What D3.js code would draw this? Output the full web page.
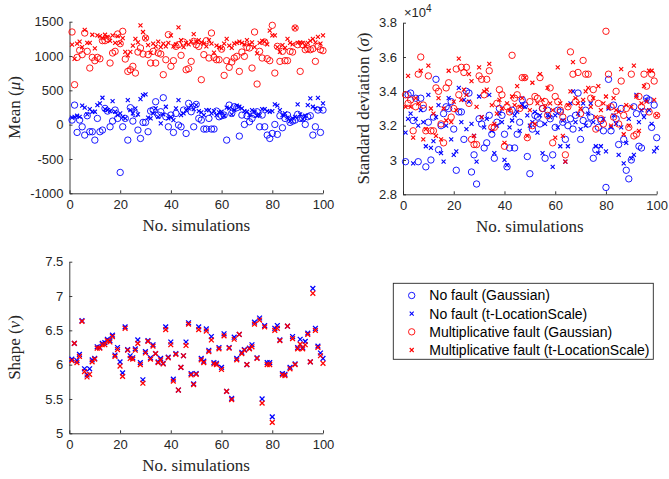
<!DOCTYPE html>
<html><head><meta charset="utf-8">
<script src="https://cdn.jsdelivr.net/npm/d3@7"></script>
<style>body{margin:0;background:#fff}svg{display:block}</style>
</head><body>
<script>
// Simulation index (x axis)
const simulations = d3.range(1, 101);

// Estimated mean (mu)
const meanNoFaultGauss = [67,285,-113,67,-31,-152,130,-103,-103,-225,91,-103,-79,237,198,-31,52,213,91,-696,
  -31,91,-225,247,52,159,-79,-201,33,33,-103,198,213,334,140,188,392,115,-31,140,
  -113,164,-6,-31,213,-128,310,188,-31,295,91,67,-64,-64,91,-64,-64,198,115,130,
  140,-225,285,164,261,247,-167,140,3,130,42,91,150,188,-31,140,-31,-152,-201,-128,
  3,-142,130,-45,91,140,33,52,67,150,91,91,3,115,130,-152,-31,213,-113,213];
const meanNoFaultT = [101,115,130,115,276,247,149,227,188,188,285,310,392,227,213,198,344,188,140,164,
  115,91,358,213,164,237,149,373,431,441,101,91,164,237,115,18,149,261,91,115,
  67,237,358,140,164,213,237,276,227,285,198,178,140,213,213,164,198,140,178,188,
  130,247,237,149,213,276,261,237,198,188,140,213,188,130,140,227,227,198,188,198,
  295,276,213,140,164,101,52,91,115,295,149,81,130,285,383,261,237,390,227,310];
const meanMultGauss = [1350,582,980,1083,1020,1335,1068,825,980,932,980,960,1224,1224,1250,898,1044,1068,1321,1180,
  1360,956,776,800,850,752,1058,1117,1029,1262,1020,898,1068,898,1044,1029,728,946,1311,850,
  932,1141,1165,1010,1204,800,815,922,1214,1165,1140,655,1020,1224,971,1335,980,946,946,1100,
  718,932,835,913,971,995,776,1058,995,1126,1117,825,1350,592,1068,971,1204,961,932,1447,
  752,1141,922,1068,932,932,1068,1058,1408,1165,776,1165,1092,1107,1092,1107,922,1141,1092,1078];
const meanMultT = [1165,960,1180,1210,1130,1380,1190,1190,1310,1110,1300,1290,1260,1310,1280,1220,1300,1190,1290,1190,
  1260,1060,1010,1060,1150,1250,1200,1447,1350,1260,1160,1050,1180,1140,1210,1130,1180,1140,1190,1300,
  1140,1170,1418,1230,1130,1190,1170,1210,1320,1210,1230,1200,1180,1140,1230,1180,1050,1150,1130,1110,
  1180,1250,1150,1120,1180,1190,1210,1190,1170,1230,1170,1200,1130,1040,1190,1220,1210,1170,1370,1300,
  1300,1130,1060,1160,1120,1250,1190,1170,1410,1190,1200,1190,1140,1190,1220,1250,1200,1280,1180,1300];

// Estimated standard deviation (sigma), in units of 1e4
const sdNoFaultGauss = [2.99,3.38,3.39,3.23,3.36,2.99,3.36,3.30,2.96,3.22,3.00,3.25,3.47,3.06,3.20,3.27,3.31,3.30,3.34,3.18,
  2.94,3.28,3.28,3.12,3.40,3.39,2.93,3.03,2.86,3.24,3.21,3.07,3.10,3.26,3.15,3.01,3.22,3.30,3.26,3.15,
  2.96,3.07,3.29,3.07,3.15,3.22,3.35,3.32,3.02,2.92,3.18,3.26,3.25,3.21,3.30,3.01,3.29,3.24,3.03,3.19,
  3.29,3.28,3.22,3.12,3.20,3.24,3.18,3.26,3.39,3.12,3.23,3.29,3.21,3.25,3.01,3.06,3.19,3.23,3.17,2.84,
  3.47,3.17,3.32,3.24,3.09,3.30,3.12,2.94,2.89,3.00,3.31,3.27,3.08,3.07,3.28,3.36,3.35,3.19,3.32,3.13];
const sdNoFaultT = [3.16,3.24,3.27,2.98,3.24,3.20,3.29,3.22,3.08,3.38,3.07,3.11,3.25,3.32,3.04,2.99,3.20,3.36,3.12,3.03,
  3.05,3.42,3.22,3.35,3.18,3.34,3.21,3.14,2.99,3.37,3.25,3.19,3.24,3.38,3.17,3.04,3.20,3.27,3.22,3.00,
  2.97,3.19,3.23,3.26,3.28,3.17,3.32,3.31,3.26,3.20,3.22,3.28,3.16,3.26,3.04,3.21,3.26,3.25,2.96,3.26,
  3.19,3.08,3.23,2.99,3.08,3.33,3.40,3.22,3.27,3.18,3.33,3.20,3.27,3.33,3.22,3.08,3.04,3.08,3.24,3.05,
  3.30,3.19,3.26,3.21,3.03,3.19,2.98,3.10,3.24,3.01,3.03,3.38,3.22,3.29,3.25,3.35,3.29,3.21,3.05,3.07];
const sdMultGauss = [3.38,3.33,3.35,3.17,3.31,3.50,3.60,3.32,3.17,3.49,3.17,3.17,3.42,3.40,3.21,3.10,3.42,3.45,3.25,3.30,
  3.53,3.38,3.54,3.51,3.54,3.33,3.12,3.09,3.09,3.49,3.47,3.38,3.47,3.52,3.19,3.19,3.33,3.41,3.38,3.08,
  3.31,3.28,3.61,3.36,3.38,3.30,3.48,3.48,3.13,3.34,3.20,3.37,3.36,3.48,3.30,3.34,3.26,3.42,3.10,3.37,
  3.34,3.29,3.25,3.03,3.31,3.63,3.50,3.34,3.51,3.27,3.58,3.50,3.50,3.36,3.41,3.18,3.33,3.24,3.21,3.75,
  3.50,3.31,3.25,3.40,3.21,3.46,3.26,3.30,3.19,3.50,3.14,3.15,3.37,3.31,3.50,3.43,3.28,3.50,3.46,3.26];
const sdMultT = [3.31,3.49,3.31,3.13,3.36,3.33,3.52,3.12,3.18,3.55,3.30,3.27,3.14,3.36,3.12,3.30,3.23,3.52,3.22,3.34,
  3.29,3.59,3.35,3.41,3.38,3.50,3.46,3.14,3.31,3.54,3.25,3.40,3.41,3.56,3.32,3.21,3.27,3.35,3.30,3.10,
  3.33,3.29,3.37,3.32,3.43,3.31,3.36,3.48,3.14,3.29,3.45,3.21,3.33,3.50,3.35,3.31,3.42,3.33,3.29,3.13,
  3.54,3.33,3.14,2.99,3.32,3.40,3.57,3.36,3.33,3.30,3.35,3.40,3.42,3.31,3.36,3.25,3.43,3.29,3.33,3.37,
  3.31,3.20,3.36,3.29,3.28,3.53,3.15,3.32,3.20,3.31,3.55,3.37,3.17,3.33,3.43,3.34,3.52,3.52,3.35,3.26];

// Estimated shape (nu), t-LocationScale fits only
const shapeNoFaultT = [6.08,6.31,6.06,6.15,6.64,5.94,5.85,5.94,6.07,6.09,6.26,6.25,6.31,6.32,6.37,6.35,6.43,6.14,6.25,6.04,
  5.88,6.55,6.22,6.13,6.10,6.23,6.36,6.03,5.78,6.19,6.35,6.10,6.29,6.16,6.04,6.09,6.02,6.55,6.11,6.33,
  5.79,6.16,5.63,5.96,6.13,6.33,6.61,5.87,5.72,5.87,6.55,6.09,6.05,6.52,6.21,6.41,6.03,6.02,6.25,5.96,
  6.45,5.61,6.25,5.51,6.40,6.09,6.44,6.18,6.22,6.00,6.24,6.29,6.62,6.10,6.68,5.50,6.57,6.03,6.03,5.24,
  6.53,6.57,6.36,5.87,5.86,6.56,5.96,6.41,6.01,6.25,6.37,6.25,6.34,6.46,6.04,7.11,6.53,6.27,6.17,6.09];
const shapeMultT = [6.06,6.31,6.03,6.12,6.63,5.90,5.82,5.86,6.04,6.08,6.24,6.24,6.29,6.29,6.35,6.33,6.41,6.12,6.22,5.98,
  5.83,6.53,6.21,6.09,6.08,6.21,6.31,6.00,5.73,6.17,6.34,6.08,6.27,6.16,6.03,6.07,6.01,6.51,6.10,6.29,
  5.76,6.15,5.63,5.96,6.13,6.28,6.59,5.85,5.71,5.86,6.51,6.07,6.03,6.49,6.19,6.36,6.01,6.00,6.23,5.93,
  6.42,5.61,6.24,5.49,6.37,6.07,6.44,6.16,6.21,6.00,6.23,6.26,6.59,6.09,6.65,5.44,6.55,6.00,6.00,5.16,
  6.50,6.53,6.35,5.85,5.84,6.56,5.94,6.38,6.00,6.23,6.30,6.23,6.29,6.44,6.04,7.04,6.50,6.25,6.13,6.02];

// Axis tick values and labels
const xTicks = [0, 20, 40, 60, 80, 100];
const meanTicks = [-1000, -500, 0, 500, 1000, 1500];
const sdTicks = [2.8, 3.0, 3.2, 3.4, 3.6, 3.8];
const sdTickLabels = ["2.8", "3", "3.2", "3.4", "3.6", "3.8"];
const shapeTicks = [5, 5.5, 6, 6.5, 7, 7.5];

const legendLabels = ["No fault (Gaussian)", "No fault (t-LocationScale)",
  "Multiplicative fault (Gaussian)", "Multiplicative fault (t-LocationScale)"];
const blue = "#0000ff", red = "#ff0000";
const legendStyles = [{c: blue, m: "o"}, {c: blue, m: "x"}, {c: red, m: "o"}, {c: red, m: "x"}];

const axColor = "#262626";
const sans = "'Liberation Sans', Arial, Helvetica, sans-serif";
const serif = "'Liberation Serif', 'Times New Roman', serif";

const svg = d3.select("body").append("svg").attr("width", 669).attr("height", 479);

function drawCircles(g, x, y, vals, color, r) {
  g.append("g").selectAll("circle").data(vals).join("circle")
    .attr("cx", (d, i) => x(simulations[i])).attr("cy", d => y(d)).attr("r", r)
    .attr("fill", "none").attr("stroke", color).attr("stroke-width", 0.9);
}
function crossPath(a) { return `M${-a},${-a}L${a},${a}M${-a},${a}L${a},${-a}`; }
function drawCrosses(g, x, y, vals, color, a, w) {
  g.append("g").selectAll("path").data(vals).join("path")
    .attr("transform", (d, i) => `translate(${x(simulations[i])},${y(d)})`)
    .attr("d", crossPath(a)).attr("fill", "none").attr("stroke", color).attr("stroke-width", w);
}

function panel(o) {
  const x = d3.scaleLinear().domain([0, 100]).range([o.left, o.right]);
  const y = d3.scaleLinear().domain(o.yDomain).range([o.bottom, o.top]);
  const g = svg.append("g");
  const xa = g.append("g").attr("transform", `translate(0,${o.bottom})`)
    .call(d3.axisBottom(x).tickValues(xTicks).tickSizeInner(-3).tickSizeOuter(0).tickPadding(6));
  const ya = g.append("g").attr("transform", `translate(${o.left},0)`)
    .call(d3.axisLeft(y).tickValues(o.yTicks).tickFormat(o.yFormat).tickSizeInner(-3).tickSizeOuter(0).tickPadding(6));
  [xa, ya].forEach(a => {
    a.select(".domain").attr("stroke", axColor).attr("stroke-width", 0.9);
    a.selectAll(".tick line").attr("stroke", axColor).attr("stroke-width", 0.9);
    a.selectAll(".tick text").attr("fill", axColor).style("font-family", sans).style("font-size", "13px");
  });
  // x label
  g.append("text").attr("x", (o.left + o.right) / 2).attr("y", o.bottom + 38)
    .attr("text-anchor", "middle").style("font-family", serif).style("font-size", "17px")
    .attr("fill", axColor).text("No. simulations");
  // y label with italic greek symbol
  const yl = g.append("text").attr("transform", `translate(${o.ylx},${(o.top + o.bottom) / 2}) rotate(-90)`)
    .attr("text-anchor", "middle").style("font-family", serif).style("font-size", "17px").attr("fill", axColor);
  yl.append("tspan").text(o.ylabel + " (");
  yl.append("tspan").style("font-style", "italic").text(o.sym);
  yl.append("tspan").text(")");
  return {g, x, y};
}

// Mean panel
const p1 = panel({left: 69.5, right: 323, top: 21.7, bottom: 193.3, yDomain: [-1000, 1500],
  yTicks: meanTicks, yFormat: d => String(d), ylabel: "Mean", sym: "μ", ylx: 20});
drawCircles(p1.g, p1.x, p1.y, meanNoFaultGauss, blue, 3.2);
drawCrosses(p1.g, p1.x, p1.y, meanNoFaultT, blue, 2, 1.1);
drawCircles(p1.g, p1.x, p1.y, meanMultGauss, red, 3.2);
drawCrosses(p1.g, p1.x, p1.y, meanMultT, red, 2, 1.1);

// Standard deviation panel
const p2 = panel({left: 403, right: 656.7, top: 22.7, bottom: 194.3, yDomain: [2.8, 3.8],
  yTicks: sdTicks, yFormat: (d, i) => sdTickLabels[i], ylabel: "Standard deviation", sym: "σ", ylx: 369});
drawCircles(p2.g, p2.x, p2.y, sdNoFaultGauss, blue, 3.2);
drawCrosses(p2.g, p2.x, p2.y, sdNoFaultT, blue, 2, 1.1);
drawCircles(p2.g, p2.x, p2.y, sdMultGauss, red, 3.2);
drawCrosses(p2.g, p2.x, p2.y, sdMultT, red, 2, 1.1);
// exponent label
const ex = p2.g.append("text").attr("x", 404).attr("y", 17).attr("fill", axColor)
  .style("font-family", sans).style("font-size", "13px");
ex.append("tspan").text("×10");
ex.append("tspan").attr("dy", -5).style("font-size", "10px").text("4");

// Shape panel
const p3 = panel({left: 69.3, right: 323, top: 261.7, bottom: 433.3, yDomain: [5, 7.5],
  yTicks: shapeTicks, yFormat: d => String(d), ylabel: "Shape", sym: "ν", ylx: 20});
drawCrosses(p3.g, p3.x, p3.y, shapeNoFaultT, blue, 2.4, 1.3);
drawCrosses(p3.g, p3.x, p3.y, shapeMultT, red, 2.4, 1.3);

// Legend
const lg = svg.append("g");
lg.append("rect").attr("x", 393.3).attr("y", 283.3).attr("width", 260).attr("height", 76)
  .attr("fill", "#fff").attr("stroke", axColor).attr("stroke-width", 0.9);
const ly = d3.scalePoint().domain(legendLabels).range([295.5, 350]);
legendLabels.forEach((lab, i) => {
  const s = legendStyles[i], yy = ly(lab);
  if (s.m === "o") {
    lg.append("circle").attr("cx", 411.7).attr("cy", yy).attr("r", 3.2).attr("fill", "none")
      .attr("stroke", s.c).attr("stroke-width", 0.9);
  } else {
    lg.append("path").attr("transform", `translate(411.7,${yy})`).attr("d", crossPath(2))
      .attr("fill", "none").attr("stroke", s.c).attr("stroke-width", 1.1);
  }
  lg.append("text").attr("x", 429.3).attr("y", yy).attr("dy", "0.35em").attr("fill", "#000")
    .style("font-family", sans).style("font-size", "14px").text(lab);
});
</script>
</body></html>
